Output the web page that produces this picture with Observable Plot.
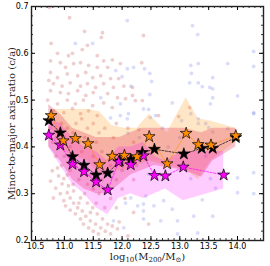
<!DOCTYPE html>
<html><head><meta charset="utf-8">
<script src="https://cdn.jsdelivr.net/npm/d3@7"></script>
<script src="https://cdn.jsdelivr.net/npm/@observablehq/plot@0.6"></script>
<style>html,body{margin:0;padding:0;background:#fff}svg{display:block}</style>
</head><body><div id="chart"></div><script>
// ---- star series (binned medians) ----
const orangeX = [10.77, 10.98, 11.19, 11.41, 11.61, 11.83, 12.04, 12.26, 12.47, 12.78, 13.11, 13.32, 13.54, 13.97];
const orangeY = [0.467, 0.413, 0.418, 0.407, 0.362, 0.380, 0.382, 0.379, 0.422, 0.364, 0.429, 0.405, 0.404, 0.424];
const orangeLo = [0.44, 0.39, 0.38, 0.37, 0.34, 0.35, 0.35, 0.36, 0.37, 0.36, 0.35, 0.33, 0.37, 0.41];
const orangeHi = [0.48, 0.48, 0.48, 0.48, 0.475, 0.445, 0.44, 0.44, 0.47, 0.43, 0.505, 0.46, 0.455, 0.44];

const blackX = [10.73, 10.93, 11.14, 11.34, 11.55, 11.75, 11.96, 12.15, 12.35, 12.56, 13.07, 13.38, 13.57, 13.97];
const blackY = [0.456, 0.430, 0.379, 0.361, 0.340, 0.344, 0.370, 0.373, 0.388, 0.395, 0.385, 0.397, 0.397, 0.420];
const blackLo = [0.40, 0.37, 0.33, 0.31, 0.30, 0.30, 0.32, 0.34, 0.35, 0.36, 0.35, 0.335, 0.37, 0.40];
const blackHi = [0.49, 0.47, 0.44, 0.43, 0.42, 0.42, 0.42, 0.43, 0.44, 0.44, 0.44, 0.43, 0.44, 0.44];

const magentaX = [10.73, 10.93, 11.14, 11.34, 11.55, 11.75, 11.94, 12.15, 12.37, 12.56, 12.75, 13.06, 13.76];
const magentaY = [0.425, 0.404, 0.363, 0.347, 0.325, 0.308, 0.368, 0.362, 0.381, 0.339, 0.338, 0.357, 0.340];
const magentaLo = [0.40, 0.36, 0.32, 0.30, 0.27, 0.255, 0.29, 0.30, 0.29, 0.30, 0.31, 0.285, 0.31];
const magentaHi = [0.46, 0.45, 0.42, 0.40, 0.39, 0.37, 0.40, 0.40, 0.41, 0.38, 0.37, 0.39, 0.39];

// ---- background scatter ----
const redX = [10.74,11.09,11.35,11.66,11.64,10.77,11.40,10.88,11.07,11.14,11.31,11.57,11.68,11.83,10.76,10.93,11.02,11.16,11.28,11.42,11.57,11.75,11.97,10.76,10.88,11.05,11.23,11.37,11.49,11.63,11.80,11.94,10.73,10.81,10.96,11.10,11.28,11.40,11.54,11.68,11.85,12.03,12.18,10.76,10.93,11.07,11.23,11.37,11.50,11.75,11.92,12.06,12.18,10.71,10.88,11.05,11.19,11.33,11.49,11.68,11.83,10.81,10.99,11.14,11.28,11.42,11.57,
12.37,12.34,12.23,12.35,12.63,12.98,13.17,12.29,
11.30,11.50,11.70,11.90,12.10,11.60,11.85,12.20,11.40,11.20,10.95,11.05,10.85,11.00,10.85,11.20,11.40,11.60,11.80,12.00,12.20,12.00,11.80,11.65,12.25,
10.79,10.90,10.76,10.96,10.85,11.05,10.93,11.10,10.99,11.16,11.02,11.23,11.10,11.31,11.19,11.37,11.28,11.45,11.33,11.54,11.42,11.63,11.50,11.71,11.59,11.80,11.75,11.83,11.66,11.57,11.49,11.40,11.28,11.16,11.07,10.99,10.88,10.81,11.92,11.95,12.10,12.20,12.46,
10.75,10.80,10.90,11.00,11.10,11.15,11.25,11.30,11.35,11.45,11.50,11.55,11.10,11.25,11.30,11.45,11.50,11.65,11.70,11.90,10.95,11.05,11.15,11.35,11.55,11.70,11.90,12.05,11.25,11.45];
const redY = [0.698,0.676,0.647,0.644,0.634,0.621,0.617,0.600,0.595,0.600,0.608,0.595,0.584,0.586,0.584,0.580,0.570,0.578,0.580,0.574,0.570,0.570,0.578,0.559,0.548,0.556,0.552,0.559,0.548,0.552,0.546,0.546,0.542,0.535,0.530,0.537,0.530,0.535,0.527,0.535,0.527,0.530,0.527,0.520,0.516,0.514,0.520,0.510,0.516,0.514,0.505,0.503,0.510,0.500,0.492,0.500,0.492,0.500,0.488,0.494,0.484,0.477,0.473,0.482,0.471,0.477,0.467,
0.638,0.580,0.499,0.499,0.467,0.465,0.484,0.437,
0.460,0.450,0.440,0.450,0.440,0.430,0.420,0.410,0.440,0.450,0.450,0.440,0.420,0.380,0.380,0.360,0.320,0.300,0.290,0.310,0.330,0.350,0.360,0.390,0.360,
0.349,0.338,0.327,0.321,0.312,0.302,0.300,0.291,0.285,0.280,0.274,0.270,0.265,0.263,0.257,0.252,0.246,0.242,0.235,0.235,0.227,0.227,0.220,0.220,0.214,0.214,0.235,0.231,0.246,0.257,0.270,0.280,0.291,0.306,0.317,0.332,0.355,0.291,0.225,0.240,0.210,0.260,0.235,
0.440,0.410,0.400,0.420,0.400,0.430,0.410,0.390,0.420,0.400,0.380,0.410,0.350,0.330,0.350,0.340,0.310,0.330,0.310,0.330,0.360,0.340,0.320,0.300,0.280,0.270,0.270,0.290,0.280,0.260];
const blueX = [11.19,11.49,11.89,12.09,12.20,11.63,11.97,12.11,11.80,11.97,12.09,12.09,12.00,12.15,
13.22,13.31,14.28,12.39,12.48,13.19,13.32,13.83,14.28,13.20,13.57,12.51,13.17,13.32,13.39,13.52,13.57,12.48,13.57,14.00,12.37,12.46,13.53,12.58,12.49,14.28,13.03,13.32,13.32,13.50,13.57,13.83,
12.87,13.19,13.45,12.70,13.00,13.45,12.80,12.30,12.10,
12.06,12.27,12.15,11.85,12.37,12.03,12.41,12.46,14.28,14.00,14.28,14.00,12.37,12.55,12.72,12.87,13.39,13.24,13.57,12.96,12.67,12.37,13.31,12.96,13.19,13.53,13.62,14.28];
const blueY = [0.621,0.621,0.563,0.567,0.570,0.505,0.492,0.471,0.462,0.467,0.460,0.670,0.550,0.530,
0.659,0.640,0.604,0.567,0.557,0.574,0.578,0.578,0.572,0.557,0.548,0.540,0.537,0.537,0.529,0.527,0.524,0.512,0.505,0.509,0.481,0.480,0.492,0.467,0.463,0.471,0.456,0.460,0.450,0.441,0.432,0.439,
0.494,0.471,0.450,0.440,0.420,0.380,0.400,0.420,0.430,
0.280,0.274,0.291,0.242,0.263,0.227,0.295,0.342,0.345,0.334,0.300,0.302,0.278,0.274,0.285,0.267,0.287,0.252,0.252,0.242,0.242,0.246,0.216,0.214,0.332,0.332,0.312,0.473];

// ---- axis ticks ----
const xMajor = [10.5, 11.0, 11.5, 12.0, 12.5, 13.0, 13.5, 14.0];
const yMajor = [0.2, 0.3, 0.4, 0.5, 0.6, 0.7];
const xMinor = d3.range(105, 145).map(v => v / 10);
const yMinor = d3.range(10, 36).map(v => v / 50);
const xLabel = "log10(M200/M⊙)";
const yLabel = "Minor-to-major axis ratio (c/a)";

const zip = (xs, ys) => xs.map((x, i) => ({x, y: ys[i]}));
const band = (xs, lo, hi) => xs.map((x, i) => ({x, lo: lo[i], hi: hi[i]}));

const W = 270, H = 266, mt = 6, mr = 7, mb = 26, ml = 31;
const fw = W - ml - mr, fh = H - mt - mb;
const starR = 3.7;

const chart = Plot.plot({
  width: W, height: H,
  marginTop: mt, marginRight: mr, marginBottom: mb, marginLeft: ml,
  style: {background: "#fff", fontFamily: "DejaVu Sans", fontSize: "8px", color: "#000", overflow: "visible"},
  x: {domain: [10.43, 14.45]},
  y: {domain: [0.2, 0.7]},
  marks: [
    Plot.dot(zip(redX, redY), {x: "x", y: "y", r: 1.9, fill: "firebrick", fillOpacity: 0.22}),
    Plot.dot(zip(blueX, blueY), {x: "x", y: "y", r: 1.9, fill: "#3040e0", fillOpacity: 0.18}),
    Plot.areaY(band(orangeX, orangeLo, orangeHi), {x: "x", y1: "lo", y2: "hi", fill: "darkorange", fillOpacity: 0.22}),
    Plot.areaY(band(blackX, blackLo, blackHi), {x: "x", y1: "lo", y2: "hi", fill: "crimson", fillOpacity: 0.25}),
    Plot.areaY(band(magentaX, magentaLo, magentaHi), {x: "x", y1: "lo", y2: "hi", fill: "magenta", fillOpacity: 0.2}),
    Plot.line(zip(blackX, blackY), {x: "x", y: "y", stroke: "black", strokeWidth: 0.7, strokeDasharray: "2,1.5"}),
    Plot.line(zip(magentaX, magentaY), {x: "x", y: "y", stroke: "magenta", strokeWidth: 0.7, strokeDasharray: "2,1.5"}),
    Plot.line(zip(orangeX, orangeY), {x: "x", y: "y", stroke: "darkorange", strokeWidth: 0.7, strokeDasharray: "2,1.5"}),
    Plot.dot(zip(blackX, blackY), {x: "x", y: "y", symbol: "star", r: starR, fill: "black", stroke: "black", strokeWidth: 0.7}),
    Plot.dot(zip(magentaX, magentaY), {x: "x", y: "y", symbol: "star", r: starR, fill: "magenta", stroke: "black", strokeWidth: 0.7}),
    Plot.dot(zip(orangeX, orangeY), {x: "x", y: "y", symbol: "star", r: starR, fill: "darkorange", stroke: "black", strokeWidth: 0.7}),
    // inward ticks on all four sides
    Plot.tickX(xMajor, {x: d => d, insetTop: fh - 4, stroke: "black", strokeWidth: 1}),
    Plot.tickX(xMajor, {x: d => d, insetBottom: fh - 4, stroke: "black", strokeWidth: 1}),
    Plot.tickX(xMinor, {x: d => d, insetTop: fh - 2, stroke: "black", strokeWidth: 0.8}),
    Plot.tickX(xMinor, {x: d => d, insetBottom: fh - 2, stroke: "black", strokeWidth: 0.8}),
    Plot.tickY(yMajor, {y: d => d, insetRight: fw - 4, stroke: "black", strokeWidth: 1}),
    Plot.tickY(yMajor, {y: d => d, insetLeft: fw - 4, stroke: "black", strokeWidth: 1}),
    Plot.tickY(yMinor, {y: d => d, insetRight: fw - 2, stroke: "black", strokeWidth: 0.8}),
    Plot.tickY(yMinor, {y: d => d, insetLeft: fw - 2, stroke: "black", strokeWidth: 0.8}),
    Plot.frame({stroke: "#222", strokeWidth: 1.4}),
    Plot.axisX({ticks: xMajor, tickSize: 0, tickPadding: 3, tickFormat: d => d.toFixed(1), label: null, fontSize: 8}),
    Plot.axisY({ticks: yMajor, tickSize: 0, tickPadding: 3, tickFormat: d => d.toFixed(1), label: null, fontSize: 8}),
    Plot.text([xLabel], {frameAnchor: "bottom", dy: 19, text: d => d, textAnchor: "middle", fontFamily: "DejaVu Serif", fontSize: 10, fill: "#222"}),
    Plot.text([yLabel], {frameAnchor: "left", dx: -20, rotate: -90, text: d => d, textAnchor: "middle", fontFamily: "DejaVu Serif", fontSize: 10, fill: "#222"})
  ]
});
document.getElementById("chart").appendChild(chart);

// typeset subscripts in the x label
d3.select(chart).selectAll("text").filter(function () { return this.textContent === xLabel; })
  .each(function () {
    const t = d3.select(this);
    t.text(null);
    const parts = [["log", 0], ["10", 1], ["(M", 0], ["200", 1], ["/M", 0], ["⊙", 1], [")", 0]];
    let prev = 0;
    for (const [s, sub] of parts) {
      t.append("tspan").attr("dy", (sub - prev) * 2.5).attr("font-size", sub ? 7 : 10).text(s);
      prev = sub;
    }
  });
</script></body></html>
